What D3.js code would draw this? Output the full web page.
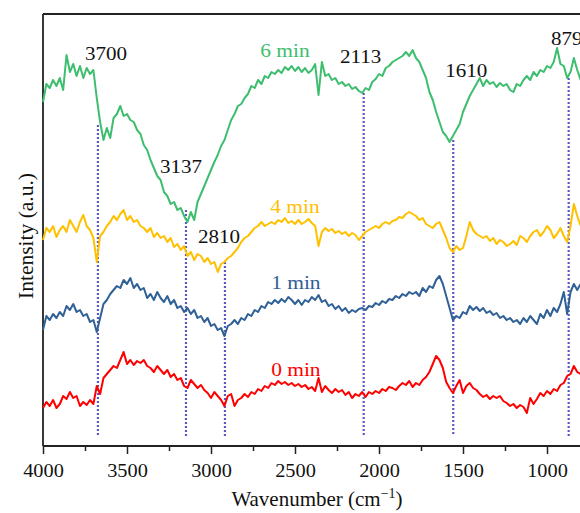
<!DOCTYPE html>
<html>
<head>
<meta charset="utf-8">
<script src="https://cdn.jsdelivr.net/npm/d3@7"></script>
<style>
  body { margin: 0; background: #fff; }
  svg { display: block; font-family: "Liberation Serif", "Times New Roman", serif; }
</style>
</head>
<body>
<div id="chart"></div>
<script>
// sampling grid of the spectra, cm^-1 (every 20 from 4000 down to 800)
const wavenumbers = d3.range(4000, 799, -20);

// intensities (a.u., stacked with offsets)
const min6 = [34.4,36.2,35.8,36.6,36.0,36.8,35.6,39.1,37.4,38.2,37.0,38.0,36.8,37.8,37.2,37.6,
  34.8,32.4,30.6,31.8,30.8,32.8,33.2,34.0,33.0,33.2,32.6,32.4,31.6,31.2,30.1,29.6,28.6,27.8,27.0,26.6,
  25.4,25.0,24.2,24.4,23.6,23.8,23.0,22.4,23.4,22.6,24.4,25.2,26.0,26.8,27.6,28.4,29.1,30.0,30.6,31.6,
  32.6,33.2,34.0,34.2,34.8,35.2,36.0,35.8,36.6,36.2,37.0,36.8,37.4,37.2,37.6,37.3,37.9,37.6,38.0,37.5,
  37.9,37.4,37.8,37.3,37.6,38.2,35.1,38.4,37.0,37.2,36.6,36.8,36.2,36.4,36.0,36.2,35.7,35.9,35.5,35.3,
  35.8,35.6,36.4,36.7,37.2,37.0,37.8,38.0,38.4,38.6,38.8,39.0,39.4,39.0,39.6,38.8,38.4,37.6,36.8,35.4,
  34.6,33.4,32.4,31.4,31.0,30.4,31.0,31.6,32.2,33.4,34.2,35.0,35.6,36.2,36.8,36.0,36.6,36.2,36.4,35.9,
  36.3,36.0,36.2,35.6,35.4,36.2,36.0,36.6,37.0,36.6,37.4,37.0,37.6,37.4,38.0,37.8,38.4,39.8,38.2,38.0,
  36.8,37.4,38.8,37.6,36.6];
const min4 = [20.6,21.8,21.4,22.0,20.9,21.6,22.0,21.4,22.6,22.0,21.4,22.4,23.1,22.0,21.6,20.8,
  18.4,21.0,21.4,22.0,22.4,23.0,22.6,23.2,23.6,22.6,23.0,22.4,22.6,22.0,21.8,21.4,21.8,20.9,21.3,20.8,
  21.0,20.4,20.8,19.9,20.2,19.6,20.0,19.0,19.4,18.6,19.2,19.0,18.4,18.8,18.2,18.4,17.4,18.2,18.4,18.8,
  19.0,19.4,19.8,20.4,20.8,21.0,21.4,21.8,22.0,22.4,22.0,22.2,22.4,22.2,22.6,22.4,22.8,22.3,22.5,22.2,
  22.6,22.2,22.4,22.7,22.3,22.0,20.0,21.4,21.8,21.5,21.7,21.3,21.5,21.2,21.4,21.0,21.3,21.1,20.6,21.0,
  21.4,21.6,21.8,22.0,21.8,22.2,22.4,22.2,22.5,22.6,22.9,22.8,23.2,23.4,23.2,23.0,22.6,22.8,22.2,22.0,
  21.8,22.2,22.4,21.6,20.8,19.8,19.4,20.0,19.6,19.8,21.0,22.4,21.6,21.2,21.0,20.8,21.0,20.5,20.8,20.2,
  20.6,20.4,20.0,20.2,20.5,20.1,21.0,20.8,20.4,21.0,21.4,21.6,21.0,21.4,22.0,21.6,20.8,21.2,21.8,21.0,
  20.4,22.0,24.2,23.0,22.0];
const min1 = [11.6,13.0,12.6,13.2,12.8,13.4,13.0,14.0,13.6,14.2,13.4,13.6,13.0,13.2,12.4,12.6,
  11.4,12.8,14.2,14.6,15.2,15.6,16.0,15.8,16.6,16.2,16.8,15.8,16.2,15.6,15.8,14.8,15.2,14.6,15.4,14.8,
  14.4,15.0,14.2,14.6,13.8,14.0,13.4,13.8,13.2,13.6,12.8,13.0,12.4,12.8,12.0,12.2,11.6,11.8,11.0,12.0,
  12.2,12.6,12.2,12.8,12.6,13.2,13.0,13.6,13.4,14.0,13.8,14.4,14.2,14.6,14.3,14.7,14.4,14.9,14.6,14.2,
  14.6,14.1,14.6,14.4,14.9,14.6,15.1,14.4,14.6,14.0,14.2,13.7,14.0,13.5,13.8,13.3,13.6,13.4,13.7,13.8,
  13.6,14.0,13.9,14.3,14.1,14.5,14.3,14.7,14.6,15.0,14.8,15.2,15.0,15.4,15.2,15.4,15.0,15.8,15.4,16.0,
  15.8,16.6,17.0,16.2,15.0,13.8,12.6,13.0,12.8,13.4,13.2,14.0,13.6,13.9,13.5,13.8,13.3,13.5,13.1,13.3,
  12.8,13.0,12.6,12.8,12.4,12.6,12.2,12.8,12.4,13.0,12.6,12.2,13.2,12.8,13.6,13.0,13.8,13.4,14.2,15.4,
  13.2,15.4,16.2,15.6,16.2];
const min0 = [3.8,4.4,4.0,4.6,3.8,4.2,5.0,4.7,5.4,4.8,5.0,4.0,4.4,4.1,4.6,4.2,
  6.0,5.2,6.8,7.2,7.6,8.0,7.8,8.6,9.4,8.2,8.6,8.1,8.5,8.3,8.6,8.0,7.8,7.4,8.0,7.6,
  7.2,7.6,6.9,7.2,6.6,6.8,6.0,5.8,6.6,6.2,5.8,6.1,5.6,5.3,4.8,5.4,5.0,4.6,4.0,5.0,
  5.2,4.0,4.6,4.8,5.2,4.9,5.4,5.2,5.7,5.5,6.0,5.8,6.3,6.1,6.5,6.2,6.4,6.1,6.3,6.0,
  6.2,5.9,6.1,5.7,5.9,5.5,6.8,5.4,6.0,5.6,5.3,5.7,5.4,5.6,5.1,5.4,4.8,5.2,5.0,5.4,
  4.9,5.4,5.2,5.5,5.3,5.7,5.5,5.9,5.8,5.6,6.0,6.3,6.1,6.5,5.9,6.3,6.1,6.6,6.9,7.4,
  8.2,9.0,8.6,7.8,6.4,5.8,5.3,6.0,6.6,5.3,6.0,6.3,5.8,5.6,5.2,4.9,5.1,4.7,5.0,4.8,
  5.0,4.5,4.3,4.0,4.2,3.8,4.1,3.9,3.3,4.8,4.2,4.7,5.3,5.0,5.5,5.2,5.7,5.5,6.1,6.3,
  7.0,7.2,8.0,7.4,7.2];

const seriesNames = ["6 min", "4 min", "1 min", "0 min"];
const seriesValues = [min6, min4, min1, min0];
const seriesColors = ["#3dbe6e", "#ffc000", "#2f6096", "#ff0000"];
// where each series name is written (wavenumber, intensity)
const seriesLabelAt = [[2560, 38.9], [2500, 23.3], [2495, 15.7], [2495, 7.0]];

// band markers
const bandLabels = ["3700", "3137", "2810", "2113", "1610", "879"];
const bandPositions = [3673, 3149, 2917, 2091, 1558, 871];
const bandTops = [32.1, 23.6, 18.4, 35.3, 30.6, 36.8];
const bandBottom = 1.0;
// label offsets from the top of each marker, px
const bandLabelDx = [8, -5, -6, -3, 13, -2];
const bandLabelDy = [-65, -37, -19, -30, -63, -33];

const majorTicks = [4000, 3500, 3000, 2500, 2000, 1500, 1000];
const minorTicks = [3750, 3250, 2750, 2250, 1750, 1250];

const width = 580, height = 513;
const margin = {top: 14, left: 43, bottom: 67};

const svg = d3.select("#chart").append("svg")
  .attr("width", width)
  .attr("height", height);

const x = d3.scaleLinear()
  .domain([4000, 800])
  .range([margin.left, margin.left + 3200 * 0.168]);

const y = d3.scaleLinear()
  .domain([0, 43.2])
  .range([height - margin.bottom, margin.top]);

// frame: top and left
svg.append("line")
  .attr("x1", margin.left).attr("x2", width + 2)
  .attr("y1", margin.top).attr("y2", margin.top)
  .attr("stroke", "#222").attr("stroke-width", 1.8);
svg.append("line")
  .attr("x1", margin.left).attr("x2", margin.left)
  .attr("y1", margin.top).attr("y2", height - margin.bottom)
  .attr("stroke", "#222").attr("stroke-width", 1.8);

// x axis
const axisY = height - margin.bottom;
const xMinor = svg.append("g")
  .attr("transform", "translate(0," + axisY + ")")
  .call(d3.axisBottom(x).tickValues(minorTicks).tickSize(5).tickFormat(""));
const xMajor = svg.append("g")
  .attr("transform", "translate(0," + axisY + ")")
  .call(d3.axisBottom(x).tickValues(majorTicks).tickSize(8).tickSizeOuter(0).tickFormat(d3.format("d")));

xMinor.select(".domain").remove();
xMajor.select(".domain")
  .attr("d", "M" + margin.left + ",0H" + (width + 2))
  .attr("stroke", "#222").attr("stroke-width", 1.8);
svg.selectAll(".tick line").attr("stroke", "#222").attr("stroke-width", 1.5);
xMajor.selectAll(".tick text")
  .attr("y", 18)
  .attr("fill", "#111")
  .style("font-family", "'Liberation Serif', serif")
  .style("font-size", "18px")
  .attr("transform", "scale(1.13,1)");

// axis titles
const xTitle = svg.append("text")
  .attr("x", 317).attr("y", 506)
  .attr("text-anchor", "middle")
  .style("font-size", "21px")
  .attr("fill", "#111");
xTitle.append("tspan").text("Wavenumber (cm");
xTitle.append("tspan").text("\u22121").attr("dy", -8).style("font-size", "14px");
xTitle.append("tspan").text(")").attr("dy", 8);

svg.append("text")
  .attr("transform", "translate(33,236) rotate(-90)")
  .attr("text-anchor", "middle")
  .style("font-size", "21.5px")
  .attr("fill", "#111")
  .text("Intensity (a.u.)");

// band marker lines
svg.append("g").selectAll("line")
  .data(bandPositions)
  .enter().append("line")
  .attr("x1", d => x(d)).attr("x2", d => x(d))
  .attr("y1", (d, i) => y(bandTops[i]))
  .attr("y2", y(bandBottom))
  .attr("stroke", "#5a58c8")
  .attr("stroke-width", 2.2)
  .attr("stroke-dasharray", "2,2");

// spectra
const line = d3.line()
  .x((d, i) => x(wavenumbers[i]))
  .y(d => y(d));

svg.append("g").selectAll("path")
  .data(seriesValues)
  .enter().append("path")
  .attr("d", d => line(d))
  .attr("fill", "none")
  .attr("stroke", (d, i) => seriesColors[i])
  .attr("stroke-width", 2)
  .attr("stroke-linejoin", "round");

// series names
svg.append("g").selectAll("text")
  .data(seriesNames)
  .enter().append("text")
  .attr("transform", (d, i) => "translate(" + x(seriesLabelAt[i][0]) + "," + y(seriesLabelAt[i][1]) + ") scale(1.1,1)")
  .attr("text-anchor", "middle")
  .style("font-size", "19.5px")
  .attr("fill", (d, i) => seriesColors[i])
  .text(d => d);

// band labels
svg.append("g").selectAll("text")
  .data(bandLabels)
  .enter().append("text")
  .attr("transform", (d, i) => "translate(" + (x(bandPositions[i]) + bandLabelDx[i]) + "," +
        (y(bandTops[i]) + bandLabelDy[i]) + ") scale(1.08,1)")
  .attr("text-anchor", "middle")
  .style("font-size", "19.5px")
  .attr("fill", "#111")
  .text(d => d);
</script>
</body>
</html>
